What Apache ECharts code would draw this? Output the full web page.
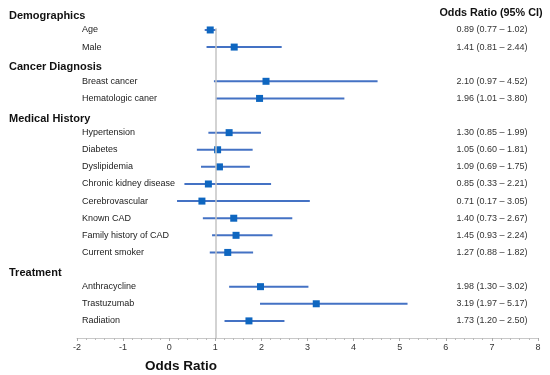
<!DOCTYPE html>
<html>
<head>
<meta charset="utf-8">
<script src="https://cdn.jsdelivr.net/npm/echarts@6/dist/echarts.min.js"></script>
<style>html,body{margin:0;padding:0;background:#fff}#c{width:550px;height:375px}</style>
</head>
<body>
<div id="c"></div>
<script>
const rowLabels = ['Demographics','Age','Male','Cancer Diagnosis','Breast cancer','Hematologic caner','Medical History','Hypertension','Diabetes','Dyslipidemia','Chronic kidney disease','Cerebrovascular','Known CAD','Family history of CAD','Current smoker','Treatment','Anthracycline','Trastuzumab','Radiation'];
const isHeader = [true,false,false,true,false,false,true,false,false,false,false,false,false,false,false,true,false,false,false];
const oddsRatio = [null,0.89,1.41,null,2.10,1.96,null,1.30,1.05,1.09,0.85,0.71,1.40,1.45,1.27,null,1.98,3.19,1.73];
const ciLow = [null,0.77,0.81,null,0.97,1.01,null,0.85,0.60,0.69,0.33,0.17,0.73,0.93,0.88,null,1.30,1.97,1.20];
const ciHigh = [null,1.02,2.44,null,4.52,3.80,null,1.99,1.81,1.75,2.21,3.05,2.67,2.24,1.82,null,3.02,5.17,2.50];
const xTicks = [-2,-1,0,1,2,3,4,5,6,7,8];
const refValue = 1;

const FONT = 'Arial, "Liberation Sans", sans-serif';
const chart = echarts.init(document.getElementById('c'));

const ciData = [], ptData = [], labelData = [];
rowLabels.forEach((l, i) => {
  labelData.push([0, i]);
  if (oddsRatio[i] != null) {
    ciData.push([ciLow[i], i, ciHigh[i]]);
    ptData.push([oddsRatio[i], i]);
  }
});

chart.setOption({
  animation: false,
  title: [
    {text: 'Odds Ratio (95% CI)', left: 491, top: 8, textAlign: 'center', padding: 0,
     textStyle: {fontFamily: FONT, fontSize: 10.8, fontWeight: 'bold', color: '#111'}},
    {text: 'Odds Ratio', left: 181, top: 359, textAlign: 'center', padding: 0,
     textStyle: {fontFamily: FONT, fontSize: 13.5, fontWeight: 'bold', color: '#111'}}
  ],
  grid: {left: 77, right: 12, top: 4.3, bottom: 37},
  xAxis: {
    type: 'value', position: 'bottom', min: xTicks[0], max: xTicks[xTicks.length-1], interval: 1,
    splitLine: {show: false},
    axisLine: {show: true, onZero: false, lineStyle: {color: '#c8c8c8', width: 1}},
    axisTick: {show: true, inside: false, length: 3, lineStyle: {color: '#aaa'}},
    minorTick: {show: true, splitNumber: 5, length: 2, lineStyle: {color: '#bbb'}},
    axisLabel: {fontFamily: FONT, fontSize: 9, color: '#333', margin: 5}
  },
  yAxis: {
    type: 'value', inverse: true, min: -0.5, max: 19, show: false
  },
  series: [
    {
      type: 'custom',
      data: ciData,
      z: 2,
      renderItem: (params, api) => {
        const a = api.coord([api.value(0), api.value(1)]);
        const b = api.coord([api.value(2), api.value(1)]);
        return {type: 'line', shape: {x1: a[0], y1: a[1], x2: b[0], y2: b[1]},
                style: {stroke: '#4472c4', lineWidth: 2}};
      },
      markLine: {
        silent: true, symbol: 'none', label: {show: false},
        lineStyle: {color: '#c4c4c4', width: 1.5, type: 'solid'},
        data: [[{coord: [refValue, 0.9]}, {coord: [refValue, 19]}]]
      }
    },
    {
      type: 'scatter',
      data: ptData,
      symbol: 'rect', symbolSize: 7, z: 3,
      itemStyle: {color: '#0e66c0', opacity: 1}
    },
    {
      type: 'custom',
      data: labelData,
      z: 4,
      renderItem: (params, api) => {
        const i = api.value(1);
        const y = api.coord([0, i])[1];
        const children = [];
        if (isHeader[i]) {
          children.push({type: 'text', style: {text: rowLabels[i], x: 9, y: y + 3,
            fontFamily: FONT, fontSize: 11, fontWeight: 'bold', fill: '#111',
            textAlign: 'left', textVerticalAlign: 'middle'}});
        } else {
          children.push({type: 'text', style: {text: rowLabels[i], x: 82, y: y,
            fontFamily: FONT, fontSize: 9, fill: '#222',
            textAlign: 'left', textVerticalAlign: 'middle'}});
          const t = oddsRatio[i].toFixed(2) + ' (' + ciLow[i].toFixed(2) + ' \u2013 ' + ciHigh[i].toFixed(2) + ')';
          children.push({type: 'text', style: {text: t, x: 492, y: y,
            fontFamily: FONT, fontSize: 9, fill: '#333',
            textAlign: 'center', textVerticalAlign: 'middle'}});
        }
        return {type: 'group', children};
      }
    }
  ]
});
</script>
</body>
</html>
